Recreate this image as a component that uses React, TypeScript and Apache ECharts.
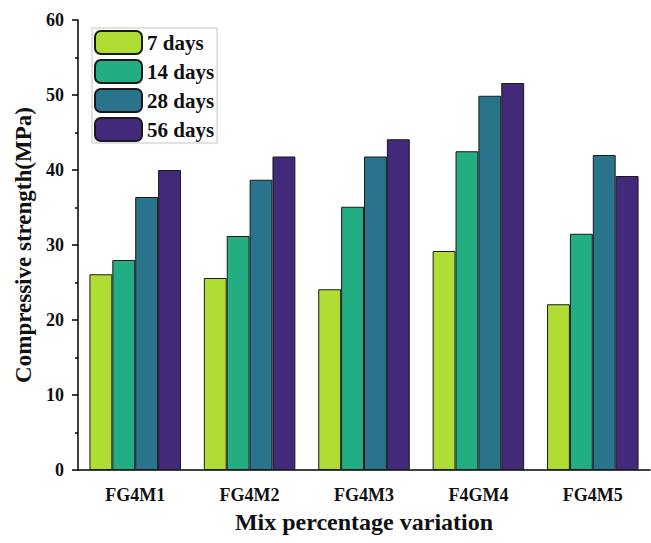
import React, { useEffect, useRef } from "react";
import * as echarts from "echarts";

const categories = ["FG4M1", "FG4M2", "FG4M3", "F4GM4", "FG4M5"];
const seriesNames = ["7 days", "14 days", "28 days", "56 days"];
const days7 = [26.1, 25.6, 24.1, 29.2, 22.1];
const days14 = [28.0, 31.2, 35.1, 42.5, 31.5];
const days28 = [36.4, 38.7, 41.8, 49.9, 42.0];
const days56 = [40.0, 41.8, 44.1, 51.6, 39.2];
const colors = ["#b0dd33", "#22ad82", "#29748c", "#43297a"];

const FONT = "'Liberation Serif', 'Times New Roman', serif";

export default function App() {
  const ref = useRef<HTMLDivElement>(null);
  useEffect(() => {
    if (!ref.current) return;
    const chart = echarts.init(ref.current, null, { renderer: "svg" });
    const data = [days7, days14, days28, days56];
    chart.setOption({
      animation: false,
      grid: { left: 78, right: 1, top: 20, bottom: 73, containLabel: false },
      legend: {
        orient: "vertical",
        left: 92,
        top: 28,
        padding: [2, 3, 1, 2],
        itemWidth: 47,
        itemHeight: 23,
        itemGap: 4,
        backgroundColor: "#fff",
        borderColor: "#c4c4c4",
        borderWidth: 1,
        borderRadius: 0,
        textStyle: { fontFamily: FONT, fontWeight: "bold", fontSize: 21, color: "#111" },
        data: seriesNames,
      },
      xAxis: [
        {
          type: "category",
          data: categories,
          position: "bottom",
          axisLine: { lineStyle: { color: "#000", width: 1.5 } },
          axisTick: { alignWithLabel: true, length: 6, lineStyle: { color: "#000", width: 1.5 } },
          axisLabel: { fontFamily: FONT, fontWeight: "bold", fontSize: 18, color: "#111", margin: 16 },
          name: "Mix percentage variation",
          nameLocation: "middle",
          nameGap: 40,
          nameTextStyle: { fontFamily: FONT, fontWeight: "bold", fontSize: 24, color: "#111" },
        },
        {
          type: "category",
          data: categories,
          position: "bottom",
          axisLine: { show: false },
          axisTick: { length: 3, lineStyle: { color: "#000", width: 1.5 } },
          axisLabel: { show: false },
        },
      ],
      yAxis: {
        type: "value",
        min: 0,
        max: 60,
        interval: 10,
        axisLine: { show: true, lineStyle: { color: "#000", width: 1.5 } },
        axisTick: { show: true, length: 6, lineStyle: { color: "#000", width: 1.5 } },
        minorTick: { show: true, splitNumber: 2, length: 3, lineStyle: { color: "#000", width: 1.5 } },
        splitLine: { show: false },
        axisLabel: { fontFamily: FONT, fontWeight: "bold", fontSize: 18, color: "#111", margin: 14 },
        name: "Compressive strength(MPa)",
        nameLocation: "middle",
        nameGap: 39,
        nameTextStyle: { fontFamily: FONT, fontWeight: "bold", fontSize: 23, color: "#111" },
      },
      series: seriesNames.map((name, i) => ({
        name,
        type: "bar",
        xAxisIndex: 0,
        data: data[i],
        barGap: "0%",
        barCategoryGap: "20%",
        itemStyle: { color: colors[i], borderColor: "#1a1a1a", borderWidth: 1 },
      })),
    });
    return () => chart.dispose();
  }, []);
  return <div ref={ref} style={{ width: 651, height: 543, position: "absolute", left: 0, top: 0 }} />;
}
